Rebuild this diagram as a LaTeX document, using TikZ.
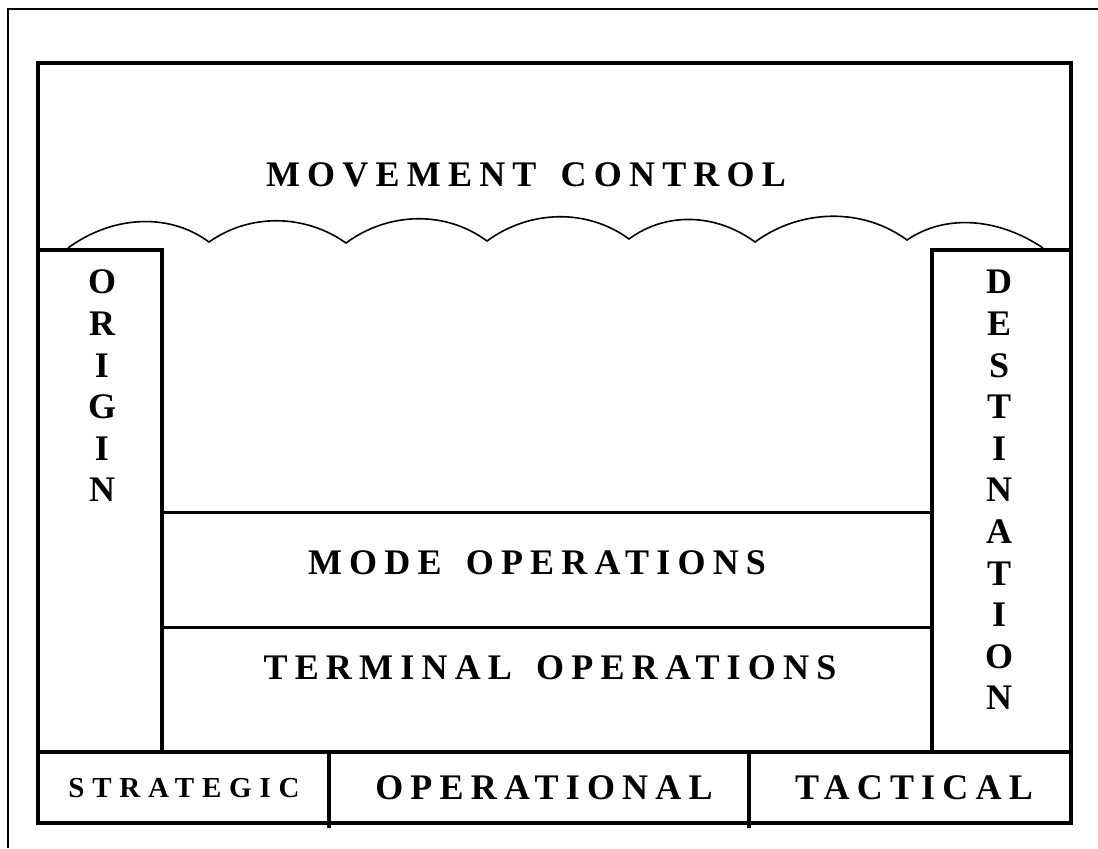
\documentclass[tikz,border=0pt]{standalone}
\usepackage{fontspec}
\setmainfont{Liberation Serif}
\usepackage{tikz}
\usetikzlibrary{positioning}

\begin{document}
\begin{tikzpicture}[x=0.5pt,y=-0.5pt,line width=2pt]
  \tikzstyle{title}=[font=\fontsize{18}{20.8}\selectfont\bfseries\addfontfeature{LetterSpace=20},inner sep=0pt]
  \tikzstyle{small title}=[font=\fontsize{14.5}{16}\selectfont\bfseries\addfontfeature{LetterSpace=27},inner sep=0pt]
  \tikzstyle{column}=[font=\fontsize{18}{20.8}\selectfont\bfseries,align=center,inner sep=0pt]

  \useasboundingbox (0,0) rectangle (1098,848);
  \draw[line width=1pt] (8,848) -- (8,9) -- (1098,9);

  % main frame and bottom row
  \draw (38,63) rectangle (1071,823);
  \draw (38,752) -- (1071,752);
  \draw (329,752) -- (329,828);
  \draw (749,752) -- (749,828);

  % side columns
  \draw (38,250) rectangle (162,752);
  \draw (932,250) rectangle (1071,752);
  \draw[line width=1.5pt] (162,512) -- (932,512);
  \draw[line width=1.5pt] (162,627) -- (932,627);

  % cloud under movement control
  \draw[line width=0.8pt] (68,248)
        .. controls +(42,-31) and +(-42,-31) .. (209,242)
        .. controls +(41,-29) and +(-41,-29) .. (346,243)
        .. controls +(42,-31) and +(-42,-31) .. (487,241)
        .. controls +(42,-31) and +(-42,-31) .. (629,239)
        .. controls +(38,-28) and +(-38,-28) .. (755,242)
        .. controls +(45,-33) and +(-45,-33) .. (907,240)
        .. controls +(41,-28) and +(-41,-28) .. (1043,248);

  \node[title] (mc) at (526,175) {MOVEMENT\hspace{4pt} CONTROL};
  \node[title] (modeop) at (537,563) {MODE\hspace{4pt} OPERATIONS};
  \node[title] (termop) at (550,668) {TERMINAL\hspace{4pt} OPERATIONS};
  \node[column] (orig) at (102,386) {O\\R\\I\\G\\I\\N};
  \node[column] (dest) at (999,490) {D\\E\\S\\T\\I\\N\\A\\T\\I\\O\\N};
  \node[small title] (strat) at (184,788) {STRATEGIC};
  \node[title] (oper) at (544,788) {OPERATIONAL};
  \node[title] (tact) at (914,788) {TACTICAL};
\end{tikzpicture}
\end{document}
